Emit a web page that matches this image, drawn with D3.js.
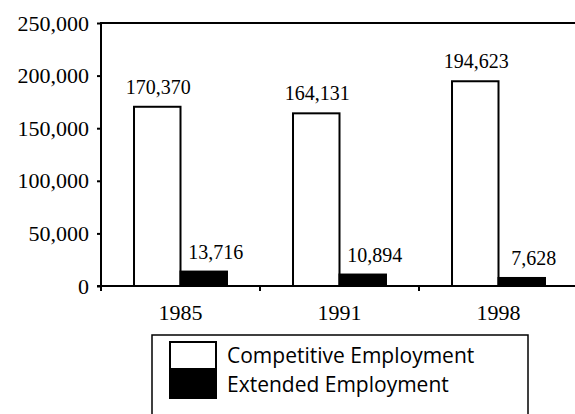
<!DOCTYPE html>
<html><head><meta charset="utf-8">
<script src="https://cdn.jsdelivr.net/npm/d3@7"></script>
<style>
html,body{margin:0;padding:0;background:#fff;}
svg{display:block;}
</style></head>
<body>
<svg id="chart" width="575" height="414"></svg>
<script>
const years = ["1985", "1991", "1998"];
const seriesNames = ["Competitive Employment", "Extended Employment"];
const competitive = [170370, 164131, 194623];
const extended = [13716, 10894, 7628];
const yTicks = [0, 50000, 100000, 150000, 200000, 250000];

const svg = d3.select("#chart");
const mLeft = 101, mRight = 578, mTop = 23, mBottom = 286;
const serif = "'Liberation Serif', 'Times New Roman', serif";

const x0 = d3.scaleBand().domain(years).range([mLeft, mRight]).padding(0);
const x1 = d3.scaleBand().domain(seriesNames).range([0, x0.bandwidth()]).paddingInner(0).paddingOuter(0.71);
const y = d3.scaleLinear().domain([0, 250000]).range([mBottom, mTop]);
const fill = d3.scaleOrdinal().domain(seriesNames).range(["#fff", "#000"]);
const fmt = d3.format(",");

const data = years.map((yr, i) => ({year: yr, values: [
  {key: seriesNames[0], v: competitive[i]},
  {key: seriesNames[1], v: extended[i]}
]}));

// bars
const g = svg.append("g").selectAll("g").data(data).join("g")
  .attr("transform", d => `translate(${x0(d.year)},0)`);
g.selectAll("rect").data(d => d.values).join("rect")
  .attr("x", d => x1(d.key))
  .attr("y", d => y(d.v))
  .attr("width", x1.bandwidth())
  .attr("height", d => y(0) - y(d.v))
  .attr("fill", d => fill(d.key))
  .attr("stroke", "#000")
  .attr("stroke-width", 2);
g.selectAll("text").data(d => d.values).join("text")
  .attr("x", d => x1(d.key) + x1.bandwidth() / 2 + (d.key === seriesNames[1] ? 12 : 1))
  .attr("y", d => y(d.v) - 13)
  .attr("text-anchor", "middle")
  .attr("font-family", serif)
  .attr("font-size", 20)
  .text(d => fmt(d.v));

// y axis
const yAxis = svg.append("g").attr("transform", `translate(${mLeft},0)`)
  .call(d3.axisLeft(y).tickValues(yTicks).tickFormat(fmt).tickSize(4).tickPadding(8));
yAxis.select(".domain").attr("stroke-width", 2).attr("d", `M0,${mTop}V${mBottom + 4}`);
yAxis.selectAll(".tick line").attr("stroke-width", 2);
yAxis.selectAll("text").attr("font-family", serif).attr("font-size", 22).attr("fill", "#000");

// top frame line
svg.append("line").attr("x1", mLeft - 1).attr("x2", 575).attr("y1", mTop).attr("y2", mTop)
  .attr("stroke", "#000").attr("stroke-width", 2);

// x axis
const xAxis = svg.append("g").attr("transform", `translate(0,${mBottom})`)
  .call(d3.axisBottom(x0).tickSize(0).tickPadding(18));
xAxis.select(".domain").attr("stroke-width", 2).attr("d", `M${mLeft - 4},0H575`);
xAxis.selectAll("text").attr("font-family", serif).attr("font-size", 22).attr("fill", "#000");
xAxis.selectAll(".sep").data(years).join("line").attr("class", "sep")
  .attr("x1", d => x0(d)).attr("x2", d => x0(d))
  .attr("y1", 0).attr("y2", 5).attr("stroke", "#000").attr("stroke-width", 2);

// legend
const lg = svg.append("g");
lg.append("rect").attr("x", 152).attr("y", 335).attr("width", 376).attr("height", 100)
  .attr("fill", "none").attr("stroke", "#000").attr("stroke-width", 1.5);
const items = lg.selectAll("g.item").data(seriesNames).join("g").attr("class", "item")
  .attr("transform", (d, i) => `translate(170,${342 + i * 29})`);
items.append("rect").attr("width", 46).attr("height", 27)
  .attr("fill", d => fill(d)).attr("stroke", "#000").attr("stroke-width", 2);
items.append("text").attr("x", 57).attr("y", 21)
  .attr("font-family", "'Open Sans', sans-serif").attr("font-size", 21)
  .text(d => d);
</script>
</body></html>
